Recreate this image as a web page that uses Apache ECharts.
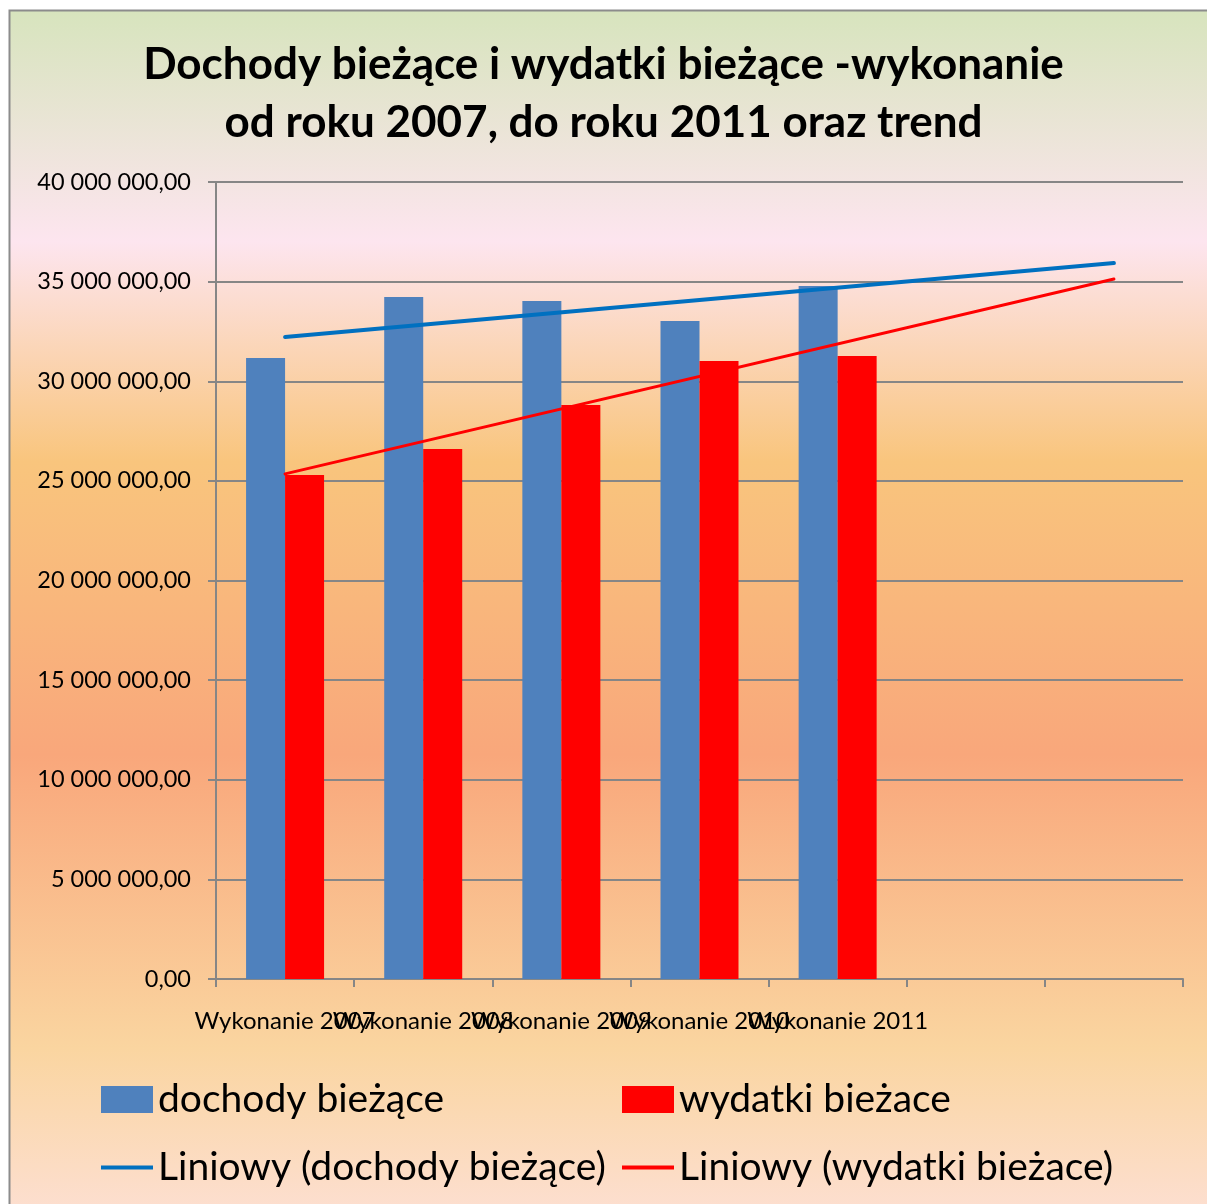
<!DOCTYPE html>
<html>
<head>
    <meta charset="utf-8">
    <title>Dochody i wydatki</title>
    <script src="https://cdn.jsdelivr.net/npm/echarts@6/dist/echarts.min.js"></script>
    <style>
        html, body { margin: 0; padding: 0; background: #fff; }
        #main { width: 1207px; height: 1204px; }
    </style>
</head>
<body>
    <div id="main"></div>
    <script type="text/javascript">

    // dane
    var categories = ['Wykonanie 2007', 'Wykonanie 2008', 'Wykonanie 2009', 'Wykonanie 2010', 'Wykonanie 2011', '', ''];
    var dochody = [31170000, 34230000, 34030000, 33020000, 34780000, null, null];
    var wydatki = [25290000, 26600000, 28810000, 31020000, 31270000, null, null];
    var trendDochody = [32220000, null, null, null, null, null, 35930000];
    var trendWydatki = [25350000, null, null, null, null, null, 35130000];

    var FONT = 'Lato';

    function fmt(v) {
        var s = String(Math.round(v));
        s = s.replace(/\B(?=(\d{3})+(?!\d))/g, ' ');
        return s + ',00';
    }

    var myChart = echarts.init(document.getElementById('main'));

    var bg = new echarts.graphic.LinearGradient(0, 0, 0, 1, [
        { offset: 0.00, color: '#d7e4bd' },
        { offset: 0.19, color: '#fde5ef' },
        { offset: 0.37, color: '#f9c57d' },
        { offset: 0.61, color: '#f9a77b' },
        { offset: 0.85, color: '#fad5a0' },
        { offset: 1.00, color: '#fde0d6' }
    ]);

    var legendText = { fontFamily: FONT, fontSize: 39, color: '#000', padding: [0, 0, 0, 0] };

    var option = {
        backgroundColor: '#ffffff',
        animation: false,
        graphic: [{
            type: 'rect',
            z: -10,
            shape: { x: 9.5, y: 10.5, width: 1220, height: 1220 },
            style: { fill: bg, stroke: '#8c8c8c', lineWidth: 2 },
            silent: true
        }],
        title: {
            text: 'Dochody bieżące i wydatki bieżące -wykonanie\nod roku 2007, do roku 2011 oraz trend',
            left: 'center',
            top: 31,
            textStyle: {
                fontFamily: FONT,
                fontWeight: 'bold',
                fontSize: 44,
                lineHeight: 58,
                color: '#000'
            }
        },
        legend: [
            {
                data: [{ name: 'dochody bieżące', icon: 'rect' }],
                left: 101, top: 1080, padding: 0,
                itemWidth: 52, itemHeight: 27, itemGap: 0,
                textStyle: legendText
            },
            {
                data: [{ name: 'wydatki bieżace', icon: 'rect' }],
                left: 622, top: 1080, padding: 0,
                itemWidth: 52, itemHeight: 27, itemGap: 0,
                textStyle: legendText
            },
            {
                data: [{ name: 'Liniowy (dochody bieżące)', icon: 'rect' }],
                left: 101, top: 1148, padding: 0,
                itemWidth: 52, itemHeight: 4, itemGap: 0,
                textStyle: legendText
            },
            {
                data: [{ name: 'Liniowy (wydatki bieżace)', icon: 'rect' }],
                left: 622, top: 1148, padding: 0,
                itemWidth: 52, itemHeight: 4, itemGap: 0,
                textStyle: legendText
            }
        ],
        grid: {
            left: 216,
            right: 24,
            top: 182,
            bottom: 225,
            containLabel: false
        },
        xAxis: {
            type: 'category',
            data: categories,
            boundaryGap: true,
            axisLine: { show: true, lineStyle: { color: '#868686', width: 2 } },
            axisTick: { show: true, length: 8, interval: 0, lineStyle: { color: '#868686', width: 2 } },
            axisLabel: {
                interval: 0,
                margin: 30,
                fontFamily: FONT,
                fontSize: 24,
                color: '#000'
            },
            splitLine: { show: false }
        },
        yAxis: {
            type: 'value',
            min: 0,
            max: 40000000,
            interval: 5000000,
            axisLine: { show: true, lineStyle: { color: '#868686', width: 2 } },
            axisTick: { show: true, length: 8, inside: false, lineStyle: { color: '#868686', width: 2 } },
            axisLabel: {
                margin: 25,
                fontFamily: FONT,
                fontSize: 23.5,
                color: '#000',
                formatter: function (v) { return fmt(v); }
            },
            splitLine: { show: true, lineStyle: { color: '#868686', width: 2 } }
        },
        series: [
            {
                name: 'dochody bieżące',
                type: 'bar',
                data: dochody,
                barWidth: 39,
                barGap: '0%',
                itemStyle: { color: '#4f81bd' }
            },
            {
                name: 'wydatki bieżace',
                type: 'bar',
                data: wydatki,
                barWidth: 39,
                barGap: '0%',
                itemStyle: { color: '#ff0000' }
            },
            {
                name: 'Liniowy (dochody bieżące)',
                type: 'line',
                data: trendDochody,
                connectNulls: true,
                symbol: 'none',
                z: 5,
                lineStyle: { color: '#0070c0', width: 4, cap: 'round' },
                itemStyle: { color: '#0070c0' }
            },
            {
                name: 'Liniowy (wydatki bieżace)',
                type: 'line',
                data: trendWydatki,
                connectNulls: true,
                symbol: 'none',
                z: 5,
                lineStyle: { color: '#ff0000', width: 3, cap: 'round' },
                itemStyle: { color: '#ff0000' }
            }
        ]
    };

    myChart.setOption(option);
    </script>
</body>
</html>
